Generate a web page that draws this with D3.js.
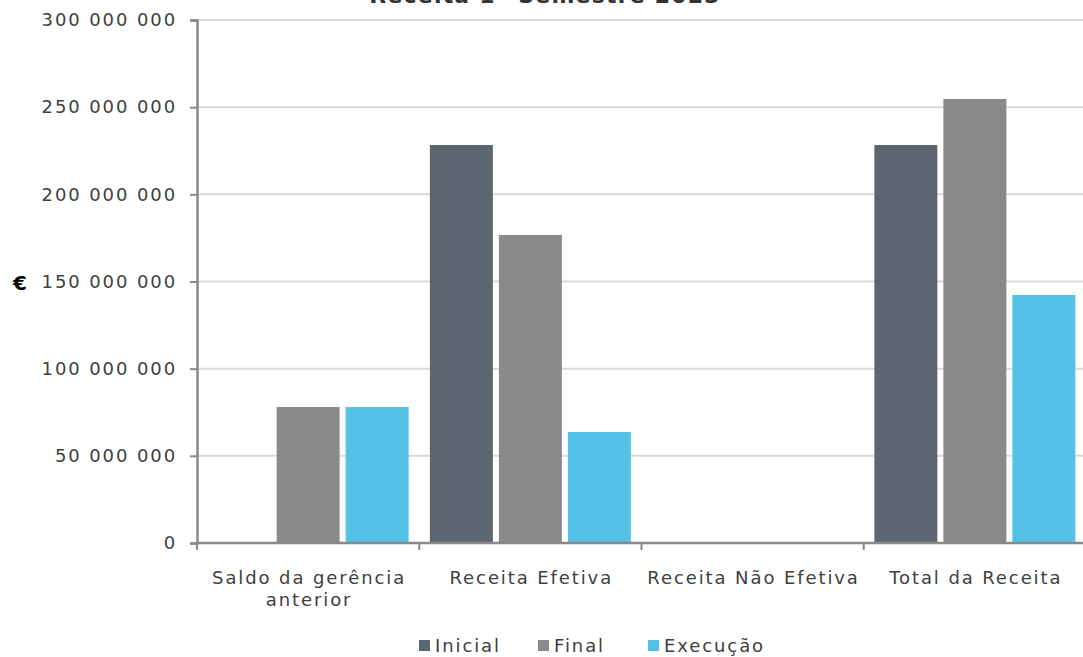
<!DOCTYPE html>
<html><head><meta charset="utf-8">
<script src="https://cdn.jsdelivr.net/npm/d3@7"></script>
<style>
html,body{margin:0;padding:0;background:#fff;}
svg{display:block;font-family:"DejaVu Sans",sans-serif;}
</style></head>
<body>
<svg id="chart" width="1083" height="657"></svg>
<script>
const categories = ["Saldo da gerência anterior", "Receita Efetiva", "Receita Não Efetiva", "Total da Receita"];
const seriesNames = ["Inicial", "Final", "Execução"];
const inicial = [0, 228300000, 0, 228300000];
const final = [78000000, 176700000, 0, 254700000];
const execucao = [78000000, 63700000, 0, 142300000];
const yTicks = [0, 50000000, 100000000, 150000000, 200000000, 250000000, 300000000];
const colors = ["#5b6670", "#8a8a8a", "#56c1e7"];
const title = "Receita 1º Semestre 2023";

const seriesValues = [inicial, final, execucao];
const svg = d3.select("#chart");
const mLeft = 197, mRight = 1086, mTop = 20, mBottom = 543;
const LS = 1.9;

const locale = d3.formatLocale({decimal: ",", thousands: " ", grouping: [3], currency: ["", "€"]});
const fmt = locale.format(",");

const x = d3.scaleBand().domain(categories).range([mLeft, mRight]).padding(0);
const xs = d3.scaleBand().domain(seriesNames).range([0, x.bandwidth()]).paddingInner(0.087).paddingOuter(0.154);
const y = d3.scaleLinear().domain([0, 300000000]).range([mBottom, mTop]);

// title (clipped at top as in the reference)
svg.append("text").attr("x", 545).attr("y", 3).attr("text-anchor", "middle")
  .attr("font-size", 22).attr("font-weight", "bold").attr("letter-spacing", 1.2).attr("fill", "#333").text(title);

// gridlines
svg.append("g").selectAll("line").data(yTicks.filter(d => d > 0)).join("line")
  .attr("x1", mLeft).attr("x2", 1083).attr("y1", d => y(d)).attr("y2", d => y(d))
  .attr("stroke", "#d9d9d9").attr("stroke-width", 2);

// bars
const data = [];
categories.forEach((c, i) => seriesNames.forEach((s, j) => data.push({c, s, v: seriesValues[j][i], j})));
svg.append("g").selectAll("rect").data(data.filter(d => d.v > 0)).join("rect")
  .attr("x", d => x(d.c) + xs(d.s)).attr("width", xs.bandwidth())
  .attr("y", d => y(d.v)).attr("height", d => y(0) - y(d.v))
  .attr("fill", d => colors[d.j]);

// y axis
const yAxis = svg.append("g").attr("transform", `translate(${mLeft},0)`)
  .call(d3.axisLeft(y).tickValues(yTicks).tickSize(7).tickPadding(13).tickFormat(fmt));
yAxis.select(".domain").attr("stroke", "#898989").attr("stroke-width", 2.5);
yAxis.selectAll(".tick line").attr("stroke", "#898989").attr("stroke-width", 2);
yAxis.selectAll(".tick text").attr("font-size", 18).attr("fill", "#404040")
  .attr("font-family", "DejaVu Sans").attr("letter-spacing", LS);

// x axis baseline
svg.append("line").attr("x1", mLeft).attr("x2", 1083).attr("y1", y(0)).attr("y2", y(0))
  .attr("stroke", "#898989").attr("stroke-width", 2.5);
// category boundary ticks
const bounds = categories.map(c => x(c)).concat([x(categories[categories.length - 1]) + x.bandwidth()]);
svg.append("g").selectAll("line").data(bounds).join("line")
  .attr("x1", d => d).attr("x2", d => d).attr("y1", y(0)).attr("y2", y(0) + 7)
  .attr("stroke", "#898989").attr("stroke-width", 2);

// category labels
const wrapLines = {"Saldo da gerência anterior": ["Saldo da gerência", "anterior"]};
const lab = svg.append("g").selectAll("text").data(categories).join("text")
  .attr("x", d => x(d) + x.bandwidth() / 2).attr("y", 584)
  .attr("text-anchor", "middle").attr("font-size", 18).attr("letter-spacing", LS).attr("fill", "#404040");
lab.each(function(d) {
  const lines = wrapLines[d] || [d];
  d3.select(this).selectAll("tspan").data(lines).join("tspan")
    .attr("x", x(d) + x.bandwidth() / 2 + LS / 2).attr("dy", (l, i) => i === 0 ? 0 : 22).text(l => l);
});

// euro label
svg.append("text").attr("x", 20).attr("y", 290).attr("text-anchor", "middle")
  .attr("font-size", 20).attr("font-weight", "bold").attr("fill", "#000").text("€");

// legend
const legendX = [419, 538, 648];
const lg = svg.append("g").selectAll("g").data(seriesNames).join("g")
  .attr("transform", (d, i) => `translate(${legendX[i]},645)`);
lg.append("rect").attr("x", 0).attr("y", -5).attr("width", 11).attr("height", 11).attr("fill", (d, i) => colors[i]);
lg.append("text").attr("x", 16).attr("y", 6.5).attr("font-size", 18).attr("letter-spacing", LS)
  .attr("fill", "#404040").text(d => d);
</script>
</body></html>
